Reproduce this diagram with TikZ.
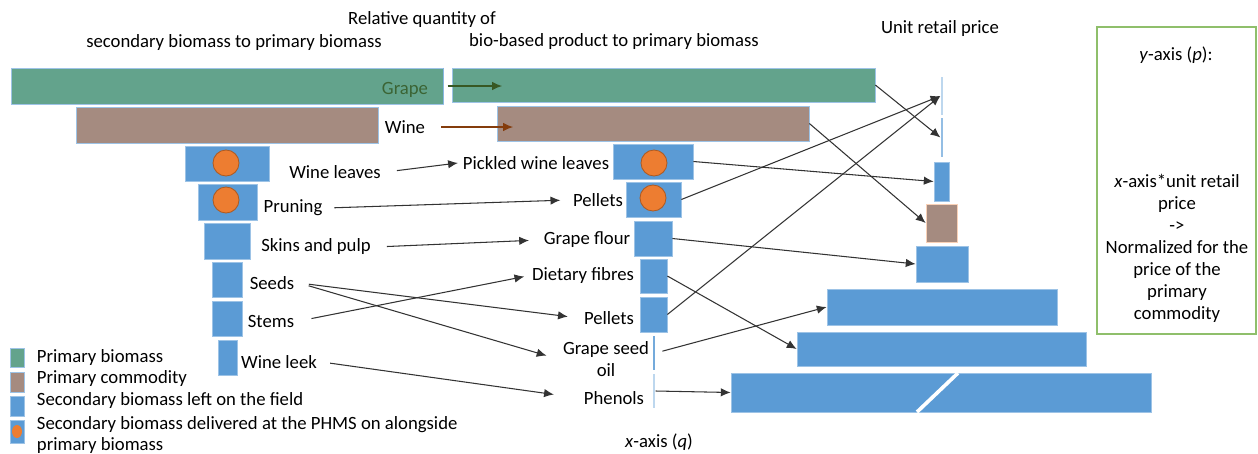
\documentclass[tikz,border=0pt]{standalone}
\usepackage{fontspec}
\setmainfont{Carlito}
\usetikzlibrary{arrows.meta}

\definecolor{biogreen}{RGB}{99,163,140}
\definecolor{biobrown}{RGB}{165,139,128}
\definecolor{bioblue}{RGB}{91,155,213}
\definecolor{edgeblue}{RGB}{157,195,230}
\definecolor{paleblue}{RGB}{189,215,238}
\definecolor{dotorange}{RGB}{237,125,49}
\definecolor{dotedge}{RGB}{174,90,33}
\definecolor{framegreen}{RGB}{143,191,107}
\definecolor{arrowgreen}{RGB}{56,87,35}
\definecolor{arrowbrown}{RGB}{132,60,12}
\definecolor{labelgreen}{RGB}{59,100,52}

\begin{document}
\begin{tikzpicture}[
    x=0.025cm, y=-0.025cm,
    font=\fontsize{13.3}{15.6}\selectfont,
    blk/.style 2 args={rectangle, inner sep=0pt, minimum width=#1*0.025cm, minimum height=#2*0.025cm, draw=edgeblue, line width=0.5pt},
    bluebox/.style={fill=bioblue},
    greenbox/.style={fill=biogreen},
    brownbox/.style={fill=biobrown},
    thinbox/.style={fill=paleblue, draw=none},
    dot/.style={circle, fill=dotorange, draw=dotedge, line width=0.6pt, minimum size=0.65cm, inner sep=0pt},
    arrow/.style={-{Latex[length=7pt, width=6pt]}, draw=black!80, line width=0.75pt}
]
\useasboundingbox (0,0) rectangle (1258,454);

% Titles
\node (titleTop) at (422,20) {Relative quantity of};
\node (titleLeft) at (234,43) {secondary biomass to primary biomass};
\node (titleMid) at (614,42) {bio-based product to primary biomass};
\node (titlePrice) at (940,29) {Unit retail price};
\node (xaxis) at (659,442) {\textit{x}-axis (\textit{q})};

% Secondary biomass column
\node[blk={432}{36}, greenbox] (grapeL) at (227,86) {};
\draw[edgeblue!70!bioblue, line width=1.2pt] (grapeL.north east) -- (grapeL.south east);
\node[blk={302}{36}, brownbox] (wineL) at (227,125) {};
\node[blk={84}{35}, bluebox] (leavesL) at (227,163.5) {};
\node[blk={59}{36}, bluebox] (pruningL) at (227.5,202) {};
\node[blk={46}{36}, bluebox] (skinsL) at (227,241) {};
\node[blk={30}{35}, bluebox] (seedsL) at (227,279.5) {};
\node[blk={30}{35}, bluebox] (stemsL) at (227,318.5) {};
\node[blk={19}{35}, bluebox] (leekL) at (227.5,357.5) {};
\node[dot] (leavesC) at (226,163) {};
\node[dot] (pruningC) at (226,200) {};

\node[text=labelgreen] (grapeT) at (405,90) {Grape};
\node (wineT) at (405,127) {Wine};
\node (leavesT) at (335,172) {Wine leaves};
\node (pruningT) at (293,208) {Pruning};
\node (skinsT) at (316,247) {Skins and pulp};
\node (seedsT) at (272,283) {Seeds};
\node (stemsT) at (271,321) {Stems};
\node (leekT) at (279,362) {Wine leek};

% Bio-based product column
\node[blk={423}{34}, greenbox] (grapeM) at (663.5,85) {};
\node[blk={312}{35}, brownbox] (wineM) at (653,123.5) {};
\node[blk={80}{35}, bluebox] (pickledM) at (653,161.5) {};
\node[blk={55}{35}, bluebox] (pelletsM) at (653.5,199.5) {};
\node[blk={38}{35}, bluebox] (flourM) at (653,238.5) {};
\node[blk={27}{34}, bluebox] (fibresM) at (653.5,276) {};
\node[blk={27}{35}, bluebox] (pellets2M) at (653.5,314.5) {};
\node[blk={2.5}{34}, thinbox, fill=bioblue!85] (oilM) at (654,353) {};
\node[blk={2.5}{34}, thinbox] (phenolsM) at (654,391) {};
\node[dot] (pickledC) at (654,163) {};
\node[dot] (pelletsC) at (653,198) {};

\node (pickledT) at (536,163) {Pickled wine leaves};
\node (pelletsT) at (598,200) {Pellets};
\node (flourT) at (587,240) {Grape flour};
\node (fibresT) at (583,276) {Dietary fibres};
\node (pellets2T) at (609,318) {Pellets};
\node[align=center] (oilT) at (606,359) {Grape seed\\oil};
\node (phenolsT) at (614,398) {Phenols};

% Unit retail price column
\node[blk={2.5}{38}, thinbox] (p1) at (942,96) {};
\node[blk={2.5}{39}, thinbox, fill=bioblue!65] (p2) at (942,137.5) {};
\node[blk={15}{39}, bluebox] (p3) at (941.5,181.5) {};
\node[blk={31}{38}, brownbox, draw=dotorange!35] (p4) at (941.5,223) {};
\node[blk={52}{36}, bluebox] (p5) at (942,264) {};
\node[blk={230}{36}, bluebox] (p6) at (942,307) {};
\node[blk={289}{34}, bluebox] (p7) at (941.5,349) {};
\node[blk={420}{39}, bluebox] (p8) at (941,392.5) {};
\draw[white, line width=2.6pt] (917,412) -- (958,373);

% Axis note
\node[draw=framegreen, line width=1pt, minimum width=159*0.025cm, minimum height=307*0.025cm] (yframe) at (1176.5,180.5) {};
\node (yaxisT) at (1176,55) {\textit{y}-axis (\textit{p}):};
\node[align=center] (normT) at (1177,248.5) {\textit{x}-axis*unit retail\\price\\->\\Normalized for the\\price of the\\primary\\commodity};

% Legend
\node[blk={14}{19}, greenbox] (legPrim) at (17,357.5) {};
\node[blk={14}{20}, brownbox] (legComm) at (17,382) {};
\node[blk={14}{20}, bluebox] (legField) at (17,406) {};
\node[blk={14}{23}, bluebox] (legDeliv) at (17,431.5) {};
\fill[dotorange] (legDeliv.center) ellipse [x radius=5, y radius=6.5];
\node[anchor=west] (legPrimT) at (32,358) {Primary biomass};
\node[anchor=west] (legCommT) at (32,379) {Primary commodity};
\node[anchor=west] (legFieldT) at (32,401) {Secondary biomass left on the field};
\node[anchor=west, align=left] (legDelivT) at (32,435) {Secondary biomass delivered at the PHMS on alongside\\primary biomass};

% Connections
\coordinate (grapeIn) at (502,86);
\coordinate (wineIn) at (513,127);
\draw[arrow, draw=arrowgreen, shorten <=3pt] (grapeL.east) -- (grapeIn);
\draw[arrow, draw=arrowbrown, shorten <=8pt] (wineT.east) -- (wineIn);

\draw[arrow, shorten <=8pt] (leavesT.east) -- (pickledT.west);
\draw[arrow, shorten <=5pt, shorten >=5.5pt] (pruningT.east) -- (pelletsT.west);
\draw[arrow, shorten <=8pt, shorten >=7pt] (skinsT.east) -- (flourT.west);
\draw[arrow, shorten <=7pt, shorten >=8pt] (seedsT.east) -- (pellets2T.west);
\draw[arrow, shorten <=7pt, shorten >=8.5pt] (seedsT.east) -- (oilT.west);
\draw[arrow, shorten <=9pt, shorten >=2pt] (stemsT.east) -- (fibresT.west);
\draw[arrow, shorten <=6pt, shorten >=18pt] (leekT.east) -- (phenolsT.west);

\draw[arrow] (grapeM.east) -- (p2.west);
\draw[arrow] (wineM.east) -- (p4.west);
\draw[arrow] (pickledM.east) -- (p3.west);
\draw[arrow] (pelletsM.east) -- (p1.west);
\draw[arrow] (flourM.east) -- (p5.west);
\draw[arrow] (fibresM.east) -- (p7.west);
\draw[arrow] (pellets2M.east) -- (p1.west);
\draw[arrow, shorten <=5pt] (oilM.east) -- (p6.west);
\draw[arrow] (phenolsM.east) -- (p8.west);

\end{tikzpicture}
\end{document}
